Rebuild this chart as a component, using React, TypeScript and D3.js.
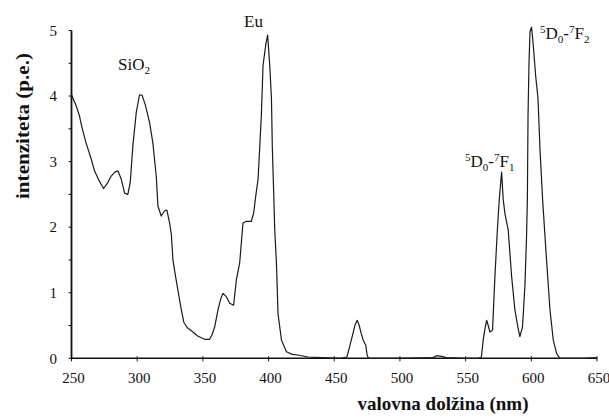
import React from "react";
import * as d3 from "d3";

const wavelength = [
  250, 253.6, 256, 258, 261, 265, 267.5, 271, 274.4, 277.7, 280.2, 283, 285.3, 287.9, 290.4, 292.9,
  294.7, 296.7, 299.3, 301.8, 303.8, 306.4, 309.4, 311.9, 314.5, 315.8, 318.3, 320.9, 322.6, 324.7,
  326, 327.2, 329.2, 331, 333.6, 335.5, 338, 342.4, 346, 351.3, 355.1, 357, 359, 361.5, 363.5, 365.3,
  367.9, 370.4, 373.4, 375.5, 378, 380.5, 383.1, 386.9, 388.7, 390.2, 392, 393.2, 394.5, 395.8, 398,
  399.3, 400.9, 402.2, 402.9, 403.9, 404.7, 406, 407.2, 409.8, 413.6, 418, 422.4, 430, 440, 455,
  459.6, 462, 464.5, 466, 467.5, 469, 470.5, 472, 474, 475, 476, 500, 525, 528, 532, 535, 550, 560,
  562, 563.5, 564.7, 566, 567.2, 568.5, 570.5, 572.3, 574, 574.8, 575.6, 577.4, 578.6, 580, 582.4,
  585, 587.5, 590, 591.3, 593.3, 595.1, 596.3, 597, 597.5, 598.2, 599, 600.2, 601.3, 603.3, 605.1,
  606.6, 608.6, 611.6, 614.2, 616.7, 619.3, 621.8, 640, 650,
];
const intensity = [
  4.02, 3.85, 3.7, 3.52, 3.29, 3.04, 2.86, 2.71, 2.59, 2.68, 2.78, 2.84, 2.86, 2.73, 2.52, 2.5,
  2.68, 3.24, 3.75, 4.02, 4.01, 3.85, 3.6, 3.29, 2.78, 2.32, 2.17, 2.25, 2.26, 2.06,
  1.89, 1.5, 1.25, 1.04, 0.74, 0.55, 0.47, 0.4, 0.34, 0.29, 0.29, 0.36, 0.48, 0.74, 0.9, 0.99,
  0.94, 0.84, 0.81, 1.2, 1.45, 2.06, 2.09, 2.09, 2.22, 2.47, 2.73, 3.19, 3.7, 4.47, 4.8,
  4.93, 4.47, 3.96, 3.19, 2.53, 1.96, 1.45, 0.68, 0.28, 0.1, 0.06, 0.05, 0.02, 0.01, 0.0,
  0.02, 0.2, 0.4, 0.52, 0.58, 0.5, 0.38, 0.28, 0.2, 0.05, 0.0, 0.0, 0.01, 0.04, 0.03, 0.01, 0.0, 0.0,
  0.02, 0.3, 0.45, 0.58, 0.5, 0.4, 0.43, 1.25, 1.9, 2.17, 2.42, 2.84, 2.42, 2.2, 1.96,
  1.25, 0.74, 0.45, 0.33, 0.48, 1.09, 1.81, 2.42, 3.7, 4.47, 4.98, 5.05, 4.82, 4.31, 3.96,
  3.19, 2.42, 1.5, 0.74, 0.28, 0.07, 0.0, 0.0, 0.01,
];
const xTicks = [250, 300, 350, 400, 450, 500, 550, 600, 650];
const yTicks = [0, 1, 2, 3, 4, 5];
const yMinorTicks = [0.5, 1.5, 2.5, 3.5, 4.5];
const xTitle = "valovna dolžina (nm)";
const yTitle = "intenziteta (p.e.)";

export default function App() {
  const x = d3.scaleLinear().domain([250, 650]).range([71.5, 597]);
  const y = d3.scaleLinear().domain([0, 5]).range([358.3, 30.5]);
  const pts = wavelength.map((w, i) => [w, intensity[i]] as [number, number]);
  const line = d3
    .line<[number, number]>()
    .x((d) => x(d[0]))
    .y((d) => y(d[1]));
  const font = "'Liberation Serif', 'Times New Roman', serif";
  const sup = 11;
  const big = 17;
  return (
    <svg
      width={609}
      height={419}
      style={{ position: "absolute", left: 0, top: 0, background: "#fff" }}
      fontFamily={font}
    >
      <rect width={609} height={419} fill="#fff" />
      {/* axes */}
      <line x1={x(250)} x2={x(650)} y1={y(0)} y2={y(0)} stroke="#111" strokeWidth={1.5} />
      <line x1={x(250)} x2={x(250)} y1={y(0)} y2={y(5)} stroke="#111" strokeWidth={1.8} />
      {xTicks.map((t) => (
        <g key={"xt" + t}>
          <line x1={x(t)} x2={x(t)} y1={y(0) - 2} y2={y(0) + 3} stroke="#111" strokeWidth={1} />
          <text x={x(t) + 2} y={383} fontSize={15} textAnchor="middle" fill="#111">
            {t}
          </text>
        </g>
      ))}
      {yTicks.map((t) => (
        <g key={"yt" + t}>
          <line x1={x(250) - 3} x2={x(250)} y1={y(t)} y2={y(t)} stroke="#111" strokeWidth={1} />
          <text x={57} y={y(t)} dy="0.35em" fontSize={15} textAnchor="end" fill="#111">
            {t}
          </text>
        </g>
      ))}
      {yMinorTicks.map((t) => (
        <line key={"ym" + t} x1={x(250) - 3} x2={x(250)} y1={y(t)} y2={y(t)} stroke="#111" strokeWidth={1} />
      ))}
      {/* spectrum */}
      <path d={line(pts) || ""} fill="none" stroke="#1a1a1a" strokeWidth={1.2} strokeLinejoin="round" />
      {/* titles */}
      <text x={443} y={410} fontSize={19} fontWeight="bold" textAnchor="middle" fill="#111">
        {xTitle}
      </text>
      <text
        transform="translate(29,126) rotate(-90)"
        fontSize={18}
        fontWeight="bold"
        textAnchor="middle"
        textLength={146}
        lengthAdjust="spacingAndGlyphs"
        fill="#111"
      >
        {yTitle}
      </text>
      {/* annotations */}
      <text x={118} y={70} fontSize={big} fill="#111">
        SiO<tspan fontSize={sup} dy={4}>2</tspan>
      </text>
      <text x={244} y={27} fontSize={big} fill="#111">
        Eu
      </text>
      <text x={465} y={167} fontSize={big} fill="#111">
        <tspan fontSize={sup} dy={-6}>5</tspan>
        <tspan dy={6}>D</tspan>
        <tspan fontSize={sup} dy={4}>0</tspan>
        <tspan dy={-4}>-</tspan>
        <tspan fontSize={sup} dy={-6}>7</tspan>
        <tspan dy={6}>F</tspan>
        <tspan fontSize={sup} dy={4}>1</tspan>
      </text>
      <text x={540} y={39} fontSize={big} fill="#111">
        <tspan fontSize={sup} dy={-6}>5</tspan>
        <tspan dy={6}>D</tspan>
        <tspan fontSize={sup} dy={4}>0</tspan>
        <tspan dy={-4}>-</tspan>
        <tspan fontSize={sup} dy={-6}>7</tspan>
        <tspan dy={6}>F</tspan>
        <tspan fontSize={sup} dy={4}>2</tspan>
      </text>
    </svg>
  );
}
